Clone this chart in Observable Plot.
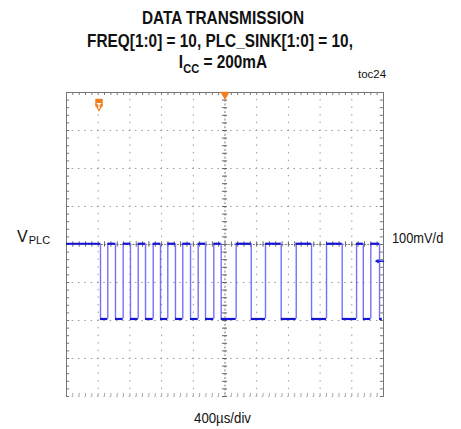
<!DOCTYPE html>
<html><head><meta charset="utf-8">
<script src="https://cdn.jsdelivr.net/npm/d3@7"></script>
<script src="https://cdn.jsdelivr.net/npm/@observablehq/plot@0.6"></script>
<style>body{margin:0;background:#fff}#chart{width:461px;height:429px;overflow:hidden}</style>
</head><body><div id="chart"></div>
<script>
// ---- text ----
const titleLines = ["DATA TRANSMISSION", "FREQ[1:0] = 10, PLC_SINK[1:0] = 10,"];
const iccLine = {main: "I", sub: "CC", rest: " = 200mA"};
const chartTag = "toc24";
const channelLabel = {main: "V", sub: "PLC"};
const yScaleLabel = "100mV/div";
const xScaleLabel = "400µs/div";
// ---- scope grid (µs, mV) ----
const timeGrid = [-2000, -1600, -1200, -800, -400, 0, 400, 800, 1200, 1600, 2000];
const voltGrid = [-400, -300, -200, -100, 0, 100, 200, 300, 400];
// ---- trace: transition times (µs), starts high ----
const edgeTimes = [-1571, -1479, -1382, -1285, -1193, -1095, -1003, -906, -814, -722,
  -625, -533, -435, -338, -246, -141, -48, 141, 331, 511, 709, 899, 1092, 1281, 1479,
  1660, 1745, 1840, 1950];
const traceStart = -2000, traceEnd = 1985;
const highLevel = 2, lowLevel = -196;     // mV
const triggerTime = -1590;                 // µs
const markerLevel = -44;                   // mV

const orange = "#f07d1e";
const minorTime = d3.range(-2000, 2001, 80);
const minorVolt = d3.range(-400, 401, 20);

const segs = [];
const edges = [];
{
  let t0 = traceStart, high = true;
  for (const e of edgeTimes) {
    segs.push({x1: t0, x2: e, y: high ? highLevel : lowLevel});
    edges.push({x: e, y1: lowLevel, y2: highLevel});
    high = !high; t0 = e;
  }
  segs.push({x1: t0, x2: traceEnd, y: high ? highLevel : lowLevel});
}

const inner = a => a.filter(v => v !== 0 && v !== a[0] && v !== a[a.length - 1]);

const svg = Plot.plot({
  width: 461, height: 429,
  marginLeft: 66, marginRight: 78, marginTop: 92, marginBottom: 33,
  x: {domain: [-2000, 2000], axis: null},
  y: {domain: [-400, 400], axis: null},
  style: {background: "transparent", overflow: "visible"},
  marks: [
    Plot.ruleX(inner(timeGrid), {stroke: "#9a9a9a", strokeDasharray: "1.5,6.1", strokeDashoffset: 0.75}),
    Plot.ruleY(inner(voltGrid), {stroke: "#9a9a9a", strokeDasharray: "1.5,4.84", strokeDashoffset: 0.75}),
    Plot.ruleY([-400], {stroke: "#b0b0b0", strokeDasharray: "1.5,4.84", strokeDashoffset: 0.75}),
    Plot.ruleX([0], {stroke: "#777", strokeDasharray: "2,1.8"}),
    Plot.ruleY([0], {stroke: "#777", strokeDasharray: "2,1.17"}),
    Plot.ruleX(minorTime, {y1: -7, y2: 7, stroke: "#666"}),
    Plot.ruleY(minorVolt, {x1: -32, x2: 32, stroke: "#666"}),
    Plot.ruleX(minorTime, {y1: 400, y2: 392, stroke: "#777"}),
    Plot.ruleX(minorTime, {y1: -400, y2: -392, stroke: "#aaa"}),
    Plot.ruleY(minorVolt, {x1: -2000, x2: -1960, stroke: "#777"}),
    Plot.ruleY(minorVolt, {x1: 2000, x2: 1960, stroke: "#777"}),
    Plot.frame({anchor: "top", stroke: "#777"}),
    Plot.frame({anchor: "left", stroke: "#777"}),
    Plot.frame({anchor: "right", stroke: "#777"}),
    // trace
    Plot.ruleX(edges, {x: "x", y1: "y1", y2: "y2", stroke: "#7272ff", strokeWidth: 1.4}),
    Plot.ruleY(segs, {x1: "x1", x2: "x2", y: "y", stroke: "#1414d6", strokeWidth: 2.2}),
    // markers
    Plot.dot([0], {x: d => d, frameAnchor: "top", dy: 2, symbol: "triangle", rotate: 180, r: 3.5, fill: orange}),
    Plot.dot([triggerTime], {x: d => d, frameAnchor: "top", dy: 10, symbol: "square", r: 4.2, fill: orange}),
    Plot.dot([triggerTime], {x: d => d, frameAnchor: "top", dy: 14.5, symbol: "triangle", rotate: 180, r: 3, fill: orange}),
    Plot.text([triggerTime], {x: d => d, text: () => "T", frameAnchor: "top", dy: 10.5, fill: "white", fontWeight: "bold", fontSize: 8}),
    Plot.arrow([markerLevel], {x1: 2000, x2: 1905, y1: d => d, y2: d => d, stroke: "#1a1ae0", strokeWidth: 1.5, headLength: 5})
  ]
});

const s = d3.select(svg);
const ff = "'Liberation Sans', Arial, sans-serif";
function line(txt, cx, y, size, weight) {
  return s.append("text").attr("transform", `translate(${cx},${y}) scale(0.855,1)`)
    .attr("text-anchor", "middle").attr("font-family", ff).attr("font-size", size)
    .attr("font-weight", weight).attr("fill", "#111").text(txt);
}
line(titleLines[0], 223, 24, 18, "bold");
line(titleLines[1], 220, 47, 18, "bold");
{
  const t = s.append("text").attr("transform", `translate(223,68) scale(0.855,1)`)
    .attr("text-anchor", "middle").attr("font-family", ff).attr("font-size", 18)
    .attr("font-weight", "bold").attr("fill", "#111");
  t.append("tspan").text(iccLine.main);
  t.append("tspan").attr("font-size", 13).attr("dy", 5).text(iccLine.sub);
  t.append("tspan").attr("dy", -5).text(iccLine.rest);
}
s.append("text").attr("x", 358).attr("y", 78).attr("text-anchor", "start").attr("font-family", ff)
  .attr("font-size", 11.5).attr("fill", "#111").text(chartTag);
{
  const t = s.append("text").attr("x", 17).attr("y", 242).attr("text-anchor", "start")
    .attr("font-family", ff).attr("font-size", 16).attr("fill", "#111");
  t.append("tspan").text(channelLabel.main);
  t.append("tspan").attr("font-size", 11).attr("dy", 2).attr("dx", 1).text(channelLabel.sub);
}
s.append("clipPath").attr("id", "rclip").append("rect").attr("x", 385).attr("y", 220).attr("width", 58).attr("height", 40);
s.append("g").attr("clip-path", "url(#rclip)").append("text")
  .attr("transform", "translate(392,243) scale(0.855,1)").attr("text-anchor", "start")
  .attr("font-family", ff).attr("font-size", 15).attr("fill", "#111").text(yScaleLabel);
line(xScaleLabel, 222.5, 423, 15.5, "normal");

document.getElementById("chart").appendChild(svg);
</script>
</body></html>
